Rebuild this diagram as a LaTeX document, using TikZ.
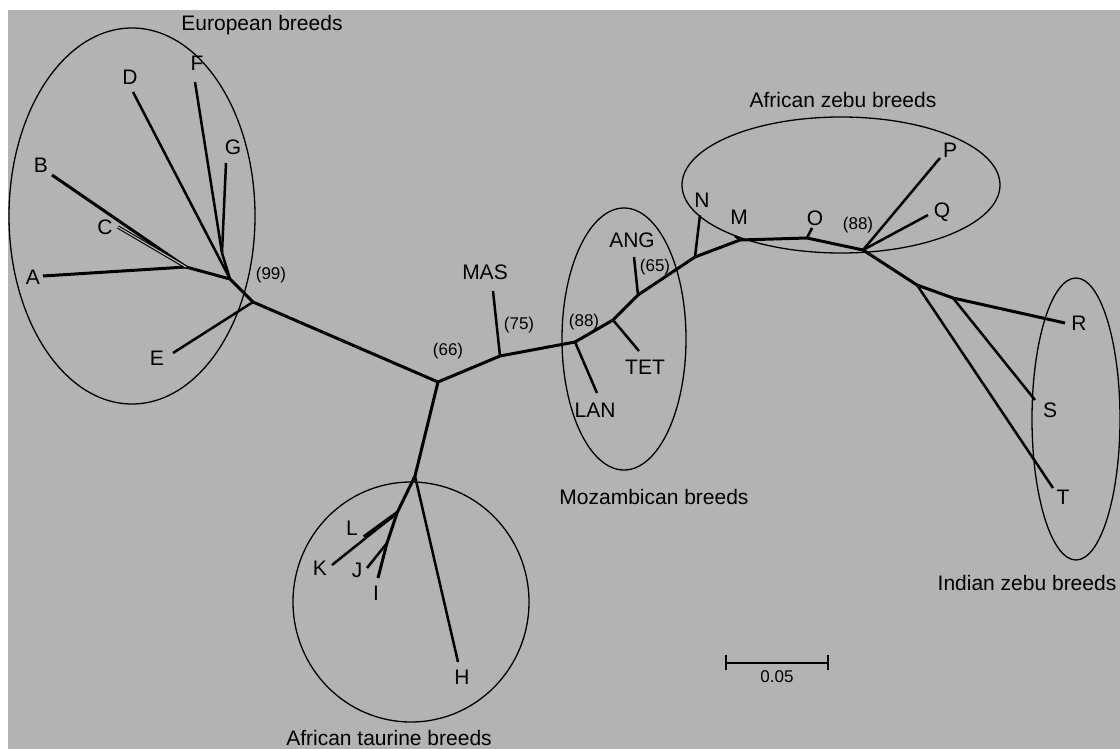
\documentclass[tikz,border=0pt]{standalone}
\usepackage{fontspec}
\setmainfont{Liberation Sans}
\definecolor{bg}{RGB}{179,179,179}
\begin{document}
\begin{tikzpicture}[x=1pt,y=-1pt,
  br/.style={line width=3pt,line join=round},
  thinbr/.style={line width=2.5pt,line join=round},
  grp/.style={line width=1.3pt},
  lab/.style={font=\fontsize{21}{25}\selectfont,inner sep=0pt},
  bs/.style={font=\fontsize{17}{20}\selectfont,inner sep=0pt},
  grplab/.style={font=\fontsize{21}{25}\selectfont,inner sep=0pt,anchor=base}]
\useasboundingbox (0,0) rectangle (1120,749);
\fill[white] (0,0) rectangle (1120,749);
\fill[bg] (8,10) rectangle (1120,749);

% ---- coordinates: European
\coordinate (tA) at (43,276);
\coordinate (tB) at (52,175);
\coordinate (tC) at (118,227);
\coordinate (tD) at (133,92);
\coordinate (tF) at (195,82);
\coordinate (tG) at (226,163);
\coordinate (tE) at (173,353);
\coordinate (jAC) at (186,267);
\coordinate (jFG) at (222,253);
\coordinate (jD) at (230,279);
\coordinate (j99) at (253,302);
% ---- trunk
\coordinate (j66) at (438,382);
\coordinate (jMAS) at (500,356);
\coordinate (tMAS) at (493,291);
\coordinate (jLAN) at (575,342);
\coordinate (tLAN) at (597,393);
\coordinate (jTET) at (613,320);
\coordinate (tTET) at (639,351);
\coordinate (jANG) at (638,295);
\coordinate (tANG) at (634,257);
\coordinate (jN) at (695,257);
\coordinate (tN) at (700,215);
\coordinate (jM) at (740,240);
\coordinate (tM) at (735,236);
\coordinate (jO) at (807,238);
\coordinate (tO) at (812,228);
\coordinate (j88) at (863,250);
\coordinate (tP) at (940,158);
\coordinate (tQ) at (928,215);
\coordinate (jT) at (917,285);
\coordinate (tT) at (1053,488);
\coordinate (jS) at (953,298);
\coordinate (tS) at (1035,400);
\coordinate (tR) at (1065,323);
% ---- African taurine
\coordinate (jH) at (415,476);
\coordinate (tH) at (458,662);
\coordinate (jL) at (397,513);
\coordinate (tK) at (332,565);
\coordinate (tL) at (364,537);
\coordinate (jJ) at (387,543);
\coordinate (tJ) at (367,568);
\coordinate (tI) at (378,578);
% ---- scale bar
\coordinate (sb1) at (726,663);
\coordinate (sb2) at (828,663);

% ---- group ellipses
\draw[grp] (132,216) ellipse [x radius=123,y radius=188];
\draw[grp] (624,339) ellipse [x radius=62,y radius=131];
\draw[grp] (841,185) ellipse [x radius=159,y radius=68];
\draw[grp] (1076,419) ellipse [x radius=44,y radius=141];
\draw[grp] (411,602) ellipse [x radius=118,y radius=120];

% ---- branches
\draw[br] (tB) -- (jAC) -- (jD) -- (j99) -- (j66);
\draw[br] (tA) -- (jAC);
\draw[double=bg,double distance=1.2pt,line width=1.1pt] (tC) -- (jAC);
\draw[thinbr] (tD) -- (jD);
\draw[thinbr] (tF) -- (jFG);
\draw[thinbr] (tG) -- (jFG);
\draw[thinbr] (jFG) -- (jD);
\draw[thinbr] (tE) -- (j99);
\draw[br] (j66) -- (jMAS) -- (jLAN) -- (jTET) -- (jANG) -- (jN) -- (jM) -- (jO) -- (j88) -- (jT) -- (jS) -- (tR);
\draw[thinbr] (tMAS) -- (jMAS);
\draw[thinbr] (tLAN) -- (jLAN);
\draw[thinbr] (tTET) -- (jTET);
\draw[thinbr] (tANG) -- (jANG);
\draw[thinbr] (tN) -- (jN);
\draw[thinbr] (tM) -- (jM);
\draw[thinbr] (tO) -- (jO);
\draw[thinbr] (tP) -- (j88);
\draw[thinbr] (tQ) -- (j88);
\draw[thinbr] (tT) -- (jT);
\draw[thinbr] (tS) -- (jS);
\draw[br] (j66) -- (jH) -- (jL) -- (jJ) -- (tI);
\draw[thinbr] (tH) -- (jH);
\draw[thinbr] (tK) -- (jL);
\draw[line width=3.8pt] (tL) -- (jL);
\draw[thinbr] (tJ) -- (jJ);

% ---- scale bar
\draw[line width=2.2pt] (sb1) -- (sb2);
\draw[line width=1.6pt] ([yshift=-7pt]sb1) -- ([yshift=8pt]sb1);
\draw[line width=1.6pt] ([yshift=-7pt]sb2) -- ([yshift=8pt]sb2);
\node[bs] (sbl) at (777,677) {0.05};

% ---- tip labels
\node[lab] (lA) at (33,277) {A};
\node[lab] (lB) at (41,165) {B};
\node[lab] (lC) at (105,227) {C};
\node[lab] (lD) at (130,77) {D};
\node[lab] (lE) at (157,358) {E};
\node[lab] (lF) at (197,63) {F};
\node[lab] (lG) at (233,147) {G};
\node[lab] (lH) at (462,677) {H};
\node[lab] (lI) at (376,593) {I};
\node[lab] (lJ) at (357,570) {J};
\node[lab] (lK) at (320,568) {K};
\node[lab] (lL) at (352,528) {L};
\node[lab] (lM) at (739,217) {M};
\node[lab] (lN) at (702,200) {N};
\node[lab] (lO) at (815,218) {O};
\node[lab] (lP) at (950,150) {P};
\node[lab] (lQ) at (942,212) {Q};
\node[lab] (lR) at (1079,323) {R};
\node[lab] (lS) at (1050,410) {S};
\node[lab] (lT) at (1063,497) {T};
\node[lab] (lMAS) at (485,272) {MAS};
\node[lab] (lLAN) at (595,410) {LAN};
\node[lab] (lTET) at (645,367) {TET};
\node[lab] (lANG) at (632,240) {ANG};

% ---- bootstrap values
\node[bs] (b99) at (271,275) {(99)};
\node[bs] (b66) at (448,351) {(66)};
\node[bs] (b75) at (519,325) {(75)};
\node[bs] (b88a) at (584,322) {(88)};
\node[bs] (b65) at (655,267) {(65)};
\node[bs] (b88b) at (858,225) {(88)};

% ---- group labels
\node[grplab] (gEu) at (262,31) {European breeds};
\node[grplab] (gAz) at (843,108) {African zebu breeds};
\node[grplab] (gMo) at (654,504) {Mozambican breeds};
\node[grplab] (gIn) at (1027,590) {Indian zebu breeds};
\node[grplab] (gAt) at (389,745) {African taurine breeds};
\end{tikzpicture}
\end{document}
